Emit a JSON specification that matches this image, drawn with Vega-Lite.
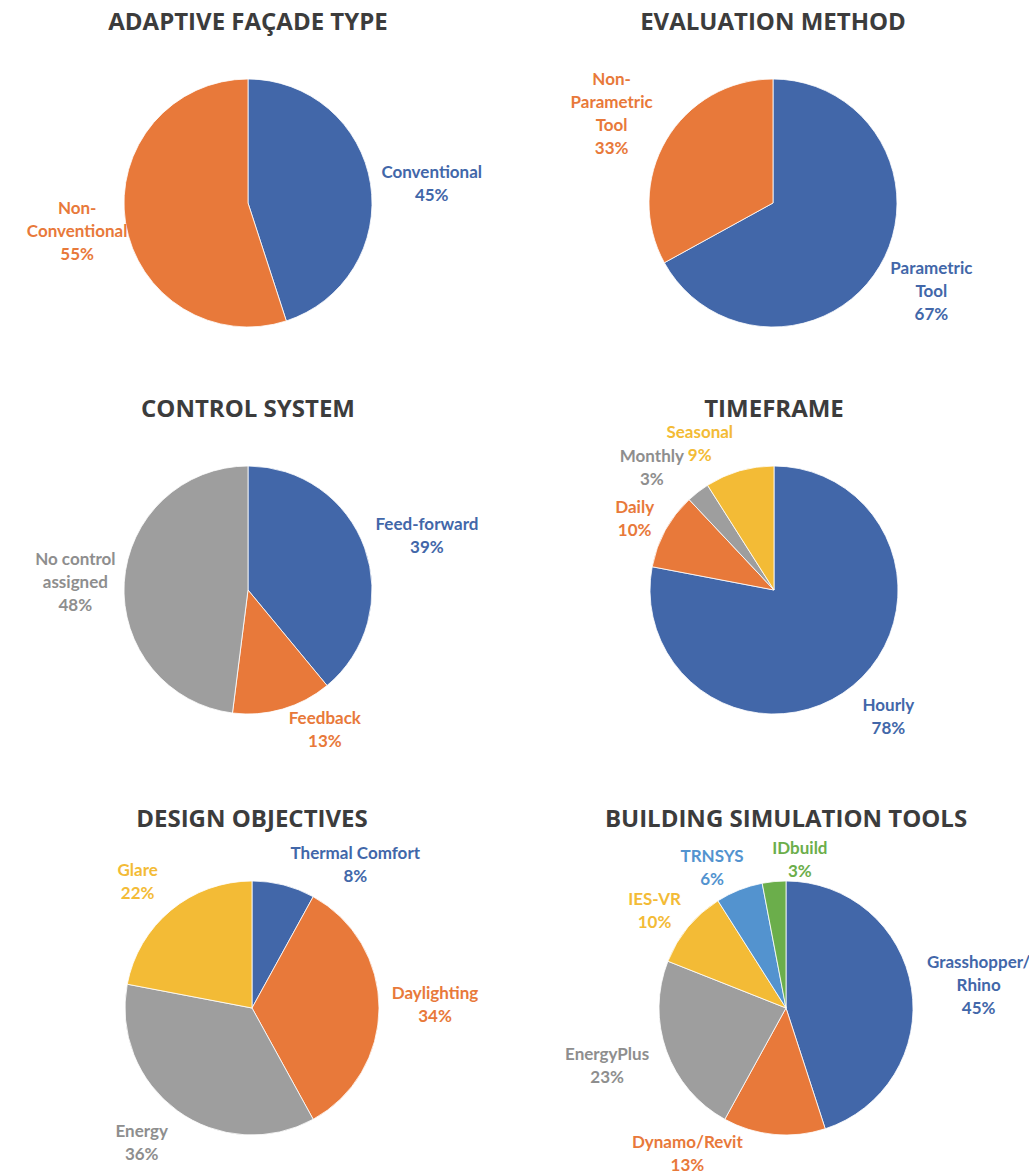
{
  "$schema": "https://vega.github.io/schema/vega-lite/v6.json",
  "background": "white",
  "padding": {"top": 11, "left": 5, "right": 0, "bottom": 0},
  "config": {
    "view": {"stroke": null},
    "title": {"font": "Open Sans", "fontSize": 24, "fontWeight": "bold", "color": "#3c3c3c", "offset": -2, "anchor": "middle"},
    "text": {"font": "Lato", "fontWeight": "bold", "fontSize": 17, "lineBreak": "\n", "lineHeight": 23, "align": "center", "baseline": "middle"}
  },
  "datasets": {
    "facade": [
      {"cat": "Conventional", "value": 45, "idx": 1, "label": "Conventional\n45%"},
      {"cat": "Non-Conventional", "value": 55, "idx": 2, "label": "Non-\nConventional\n55%"}
    ],
    "method": [
      {"cat": "Parametric Tool", "value": 67, "idx": 1, "label": "Parametric\nTool\n67%"},
      {"cat": "Non-Parametric Tool", "value": 33, "idx": 2, "label": "Non-\nParametric\nTool\n33%"}
    ],
    "control": [
      {"cat": "Feed-forward", "value": 39, "idx": 1, "label": "Feed-forward\n39%"},
      {"cat": "Feedback", "value": 13, "idx": 2, "label": "Feedback\n13%"},
      {"cat": "No control assigned", "value": 48, "idx": 3, "label": "No control\nassigned\n48%"}
    ],
    "timeframe": [
      {"cat": "Hourly", "value": 78, "idx": 1, "label": "Hourly\n78%"},
      {"cat": "Daily", "value": 10, "idx": 2, "label": "Daily\n10%"},
      {"cat": "Monthly", "value": 3, "idx": 3, "label": "Monthly\n3%"},
      {"cat": "Seasonal", "value": 9, "idx": 4, "label": "Seasonal\n9%"}
    ],
    "objectives": [
      {"cat": "Thermal Comfort", "value": 8, "idx": 1, "label": "Thermal Comfort\n8%"},
      {"cat": "Daylighting", "value": 34, "idx": 2, "label": "Daylighting\n34%"},
      {"cat": "Energy", "value": 36, "idx": 3, "label": "Energy\n36%"},
      {"cat": "Glare", "value": 22, "idx": 4, "label": "Glare\n22%"}
    ],
    "tools": [
      {"cat": "Grasshopper/Rhino", "value": 45, "idx": 1, "label": "Grasshopper/\nRhino\n45%"},
      {"cat": "Dynamo/Revit", "value": 13, "idx": 2, "label": "Dynamo/Revit\n13%"},
      {"cat": "EnergyPlus", "value": 23, "idx": 3, "label": "EnergyPlus\n23%"},
      {"cat": "IES-VR", "value": 10, "idx": 4, "label": "IES-VR\n10%"},
      {"cat": "TRNSYS", "value": 6, "idx": 5, "label": "TRNSYS\n6%"},
      {"cat": "IDbuild", "value": 3, "idx": 6, "label": "IDbuild\n3%"}
    ]
  },
  "spacing": 48,
  "resolve": {"scale": {"color": "independent", "theta": "independent"}},
  "vconcat": [
    {
      "spacing": 25,
      "resolve": {"scale": {"color": "independent", "theta": "independent"}},
      "vconcat": [
        {
          "spacing": 39,
          "resolve": {"scale": {"color": "independent", "theta": "independent"}},
          "hconcat": [
            {
              "title": "ADAPTIVE FAÇADE TYPE",
              "width": 486, "height": 340,
              "data": {"name": "facade"},
              "encoding": {
                "theta": {"field": "value", "type": "quantitative", "stack": true},
                "order": {"field": "idx", "type": "quantitative"}
              },
              "resolve": {"scale": {"color": "independent"}},
              "layer": [
                {"mark": {"type": "arc", "outerRadius": 124, "stroke": "#ffffff", "strokeWidth": 0.8},
                 "encoding": {"color": {"field": "cat", "type": "nominal", "legend": null, "scale": {"domain": ["Conventional", "Non-Conventional"], "range": ["#4267A9", "#E8793A"]}}}},
                {"mark": {"type": "text",
                  "radius": {"expr": "datum.cat === 'Conventional' ? 186 : 175"},
                  "dx": {"expr": "datum.cat === 'Conventional' ? 0 : 2"},
                  "dy": {"expr": "datum.cat === 'Conventional' ? -0.5 : -21"}},
                 "encoding": {"text": {"field": "label"},
                  "color": {"field": "cat", "type": "nominal", "legend": null, "scale": {"domain": ["Conventional", "Non-Conventional"], "range": ["#4267A9", "#E8793A"]}}}}
              ]
            },
            {
              "title": "EVALUATION METHOD",
              "width": 486, "height": 340,
              "data": {"name": "method"},
              "encoding": {
                "theta": {"field": "value", "type": "quantitative", "stack": true},
                "order": {"field": "idx", "type": "quantitative"}
              },
              "resolve": {"scale": {"color": "independent"}},
              "layer": [
                {"mark": {"type": "arc", "outerRadius": 124, "stroke": "#ffffff", "strokeWidth": 0.8},
                 "encoding": {"color": {"field": "cat", "type": "nominal", "legend": null, "scale": {"domain": ["Parametric Tool", "Non-Parametric Tool"], "range": ["#4267A9", "#E8793A"]}}}},
                {"mark": {"type": "text",
                  "radius": 184,
                  "dx": {"expr": "datum.cat === 'Parametric Tool' ? 0 : -3"},
                  "dy": {"expr": "datum.cat === 'Parametric Tool' ? -28 : -29.5"}},
                 "encoding": {"text": {"field": "label"},
                  "color": {"field": "cat", "type": "nominal", "legend": null, "scale": {"domain": ["Parametric Tool", "Non-Parametric Tool"], "range": ["#4267A9", "#E8793A"]}}}}
              ]
            }
          ]
        },
        {
          "spacing": 40,
          "resolve": {"scale": {"color": "independent", "theta": "independent"}},
          "hconcat": [
            {
              "title": "CONTROL SYSTEM",
              "width": 486, "height": 340,
              "data": {"name": "control"},
              "encoding": {
                "theta": {"field": "value", "type": "quantitative", "stack": true},
                "order": {"field": "idx", "type": "quantitative"}
              },
              "resolve": {"scale": {"color": "independent"}},
              "layer": [
                {"mark": {"type": "arc", "outerRadius": 124, "stroke": "#ffffff", "strokeWidth": 0.8},
                 "encoding": {"color": {"field": "cat", "type": "nominal", "legend": null, "scale": {"domain": ["Feed-forward", "Feedback", "No control assigned"], "range": ["#4267A9", "#E8793A", "#9E9E9E"]}}}},
                {"mark": {"type": "text",
                  "radius": {"expr": "datum.cat === 'Feed-forward' ? 187 : datum.cat === 'Feedback' ? 150 : 173"},
                  "dx": {"expr": "datum.cat === 'Feed-forward' ? 3 : datum.cat === 'Feedback' ? 35 : 0"},
                  "dy": {"expr": "datum.cat === 'Feed-forward' ? -2 : datum.cat === 'Feedback' ? -15.5 : -19"}},
                 "encoding": {"text": {"field": "label"},
                  "color": {"field": "cat", "type": "nominal", "legend": null, "scale": {"domain": ["Feed-forward", "Feedback", "No control assigned"], "range": ["#4267A9", "#E8793A", "#8E8E8E"]}}}}
              ]
            },
            {
              "title": "TIMEFRAME",
              "width": 486, "height": 340,
              "data": {"name": "timeframe"},
              "encoding": {
                "theta": {"field": "value", "type": "quantitative", "stack": true},
                "order": {"field": "idx", "type": "quantitative"}
              },
              "resolve": {"scale": {"color": "independent"}},
              "layer": [
                {"mark": {"type": "arc", "outerRadius": 124, "stroke": "#ffffff", "strokeWidth": 0.8},
                 "encoding": {"color": {"field": "cat", "type": "nominal", "legend": null, "scale": {"domain": ["Hourly", "Daily", "Monthly", "Seasonal"], "range": ["#4267A9", "#E8793A", "#9E9E9E", "#F3BB36"]}}}},
                {"mark": {"type": "text",
                  "radius": {"expr": "datum.cat === 'Hourly' ? 170 : datum.cat === 'Daily' ? 159 : datum.cat === 'Monthly' ? 165 : 155"},
                  "dx": {"expr": "datum.cat === 'Hourly' ? 6 : datum.cat === 'Daily' ? 0 : datum.cat === 'Monthly' ? -21 : -31"},
                  "dy": {"expr": "datum.cat === 'Hourly' ? -14.5 : datum.cat === 'Daily' ? -5 : datum.cat === 'Monthly' ? -2.5 : -8.5"}},
                 "encoding": {"text": {"field": "label"},
                  "color": {"field": "cat", "type": "nominal", "legend": null, "scale": {"domain": ["Hourly", "Daily", "Monthly", "Seasonal"], "range": ["#4267A9", "#E8793A", "#8E8E8E", "#F3BB36"]}}}}
              ]
            }
          ]
        }
      ]
    },
    {
      "spacing": 44,
      "resolve": {"scale": {"color": "independent", "theta": "independent"}},
      "hconcat": [
        {
          "title": "DESIGN OBJECTIVES",
          "width": 494, "height": 356,
          "data": {"name": "objectives"},
          "encoding": {
            "theta": {"field": "value", "type": "quantitative", "stack": true},
            "order": {"field": "idx", "type": "quantitative"}
          },
          "resolve": {"scale": {"color": "independent"}},
          "layer": [
            {"mark": {"type": "arc", "outerRadius": 127, "stroke": "#ffffff", "strokeWidth": 0.8},
             "encoding": {"color": {"field": "cat", "type": "nominal", "legend": null, "scale": {"domain": ["Thermal Comfort", "Daylighting", "Energy", "Glare"], "range": ["#4267A9", "#E8793A", "#9E9E9E", "#F3BB36"]}}}},
            {"mark": {"type": "text",
              "radius": {"expr": "datum.cat === 'Thermal Comfort' ? 150 : datum.cat === 'Daylighting' ? 183 : datum.cat === 'Energy' ? 174 : 170"},
              "dx": {"expr": "datum.cat === 'Thermal Comfort' ? 66 : datum.cat === 'Daylighting' ? 0 : datum.cat === 'Energy' ? -8 : -6"},
              "dy": {"expr": "datum.cat === 'Thermal Comfort' ? -8.5 : datum.cat === 'Daylighting' ? -14 : datum.cat === 'Energy' ? -16.5 : -6"}},
             "encoding": {"text": {"field": "label"},
              "color": {"field": "cat", "type": "nominal", "legend": null, "scale": {"domain": ["Thermal Comfort", "Daylighting", "Energy", "Glare"], "range": ["#4267A9", "#E8793A", "#8E8E8E", "#F3BB36"]}}}}
          ]
        },
        {
          "title": "BUILDING SIMULATION TOOLS",
          "width": 486, "height": 356,
          "data": {"name": "tools"},
          "encoding": {
            "theta": {"field": "value", "type": "quantitative", "stack": true},
            "order": {"field": "idx", "type": "quantitative"}
          },
          "resolve": {"scale": {"color": "independent"}},
          "layer": [
            {"mark": {"type": "arc", "outerRadius": 127, "stroke": "#ffffff", "strokeWidth": 0.8},
             "encoding": {"color": {"field": "cat", "type": "nominal", "legend": null, "scale": {"domain": ["Grasshopper/Rhino", "Dynamo/Revit", "EnergyPlus", "IES-VR", "TRNSYS", "IDbuild"], "range": ["#4267A9", "#E8793A", "#9E9E9E", "#F3BB36", "#5393CF", "#6BAE4B"]}}}},
            {"mark": {"type": "text",
              "radius": {"expr": "datum.cat === 'Grasshopper/Rhino' ? 192 : datum.cat === 'Dynamo/Revit' ? 145 : datum.cat === 'EnergyPlus' ? 188 : datum.cat === 'IES-VR' ? 168 : datum.cat === 'TRNSYS' ? 152 : 150"},
              "dx": {"expr": "datum.cat === 'Grasshopper/Rhino' ? 3 : datum.cat === 'Dynamo/Revit' ? -85 : datum.cat === 'EnergyPlus' ? -2 : datum.cat === 'IES-VR' ? -2 : datum.cat === 'TRNSYS' ? -18 : 28"},
              "dy": {"expr": "datum.cat === 'Grasshopper/Rhino' ? -15 : datum.cat === 'Dynamo/Revit' ? -9.5 : datum.cat === 'EnergyPlus' ? -17 : datum.cat === 'IES-VR' ? -0.5 : -9.5"}},
             "encoding": {"text": {"field": "label"},
              "color": {"field": "cat", "type": "nominal", "legend": null, "scale": {"domain": ["Grasshopper/Rhino", "Dynamo/Revit", "EnergyPlus", "IES-VR", "TRNSYS", "IDbuild"], "range": ["#4267A9", "#E8793A", "#8E8E8E", "#F3BB36", "#5393CF", "#6BAE4B"]}}}}
          ]
        }
      ]
    }
  ]
}
